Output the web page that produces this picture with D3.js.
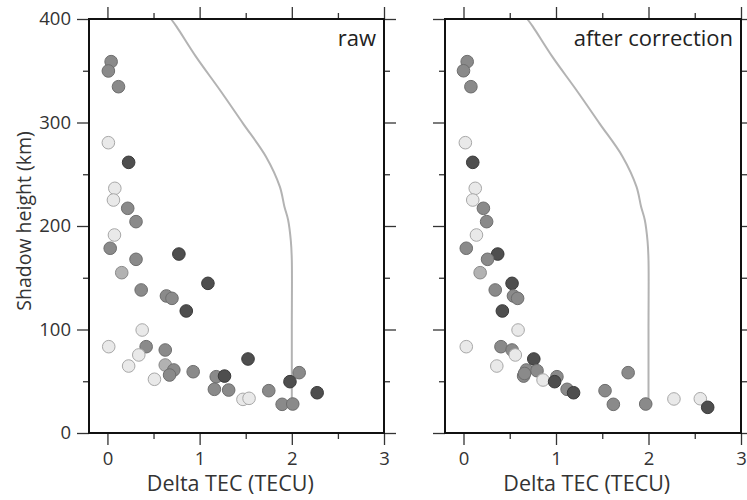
<!DOCTYPE html>
<html>
<head>
<meta charset="utf-8">
<script src="https://cdn.jsdelivr.net/npm/d3@7"></script>
<style>
  html, body { margin: 0; padding: 0; background: #fff; }
  svg { display: block; font-family: "Open Sans", "Noto Sans", sans-serif; }
</style>
</head>
<body>
<svg id="chart" width="747" height="500"></svg>
<script>
// ---- data ----
const xTicks = [0, 1, 2, 3];
const xMinorTicks = [0.5, 1.5, 2.5];
const yTicks = [0, 100, 200, 300, 400];
const yMinorTicks = [50, 150, 250, 350];

// model curve (same in both panels)
const modelTec    = [0.69, 0.75, 0.96, 1.22, 1.47, 1.72, 1.87, 1.92, 1.96, 1.99, 2.0, 2.0, 2.0];
const modelHeight = [400, 392.6, 363.6, 331.4, 299.2, 267, 238, 218.6, 205.8, 185, 167, 100, 28];

// shade codes: 0 light, 1 medium-light, 2 medium, 3 dark
const rawTec    = [0.04, 0.01, 0.12, 0.01, 0.23, 0.08, 0.065, 0.22, 0.31, 0.076, 0.03, 0.775, 0.31, 0.155, 1.09, 0.366, 0.64, 0.70, 0.855, 0.377, 0.014, 0.42, 0.627, 0.34, 0.23, 0.627, 0.72, 0.674, 0.51, 0.93, 1.18, 1.27, 1.525, 1.16, 1.315, 1.47, 1.536, 1.75, 1.895, 2.01, 1.98, 2.08, 2.275];
const rawHeight = [358.8, 349.8, 334.6, 280.5, 261.5, 236.4, 225.1, 217.1, 204.2, 191.3, 178.5, 172.9, 167.8, 154.9, 144.6, 138.2, 132.4, 130.1, 117.9, 99.5, 83.4, 83.4, 80.2, 75.4, 64.7, 65.7, 60.9, 56, 51.9, 59.2, 54.4, 55, 71.5, 42.2, 41.5, 32.5, 33.5, 40.9, 27.7, 28, 49.6, 58.3, 38.9];
const rawShade  = [2, 2, 2, 0, 3, 0, 0, 2, 2, 0, 2, 3, 2, 1, 3, 2, 2, 2, 3, 0, 0, 2, 2, 0, 0, 1, 2, 2, 0, 2, 2, 3, 3, 2, 2, 0, 0, 2, 2, 2, 3, 2, 3];

const corrTec    = [0.04, 0.0, 0.08, 0.02, 0.10, 0.127, 0.10, 0.215, 0.25, 0.14, 0.03, 0.37, 0.26, 0.18, 0.525, 0.343, 0.54, 0.585, 0.42, 0.59, 0.03, 0.405, 0.525, 0.56, 0.36, 0.76, 0.68, 0.795, 0.65, 0.66, 0.86, 1.01, 0.985, 1.12, 1.19, 1.53, 1.78, 1.62, 1.97, 2.275, 2.56, 2.64];
const corrHeight = [358.8, 350, 334.6, 280.5, 261.5, 236.4, 225.1, 217.1, 204.2, 191.3, 178.5, 172.9, 167.8, 154.9, 144.6, 138.2, 132.4, 130.1, 117.9, 99.5, 83.4, 83.4, 80.2, 75.4, 64.7, 71.5, 60.9, 60.2, 55, 57.5, 51.2, 54.4, 49.6, 42.2, 38.9, 40.9, 58.3, 27.7, 28, 32.9, 33.1, 24.8];
const corrShade  = [2, 2, 2, 0, 3, 0, 0, 2, 2, 0, 2, 3, 2, 1, 3, 2, 2, 2, 3, 0, 0, 2, 2, 0, 0, 3, 2, 2, 2, 2, 0, 2, 3, 2, 3, 2, 2, 2, 2, 0, 0, 3];

const panelLabels = ["raw", "after correction"];
const xTitle = "Delta TEC (TECU)";
const yTitle = "Shadow height (km)";

// ---- styles ----
const shadeFill   = ["#e9e9e9", "#b2b2b2", "#8a8a8a", "#4e4e4e"];
const shadeStroke = ["#a8a8a8", "#8a8a8a", "#6e6e6e", "#3a3a3a"];

const svg = d3.select("#chart");
const y = d3.scaleLinear().domain([0, 400]).range([433, 19]);

const panels = [
  { x0: 89,  x1: 384, tec: rawTec,  h: rawHeight,  shade: rawShade,  label: panelLabels[0], yLabels: true },
  { x0: 445, x1: 741, tec: corrTec, h: corrHeight, shade: corrShade, label: panelLabels[1], yLabels: false }
];

panels.forEach(p => {
  const x = d3.scaleLinear().domain([-0.2, 3]).range([p.x0, p.x1]);
  const g = svg.append("g");

  const tickStyle = sel => {
    sel.select(".domain").remove();
    sel.selectAll(".tick line").attr("stroke", "#333").attr("stroke-width", 1.3);
    sel.selectAll(".tick text").attr("fill", "#333").style("font-size", "18.5px")
      .style("font-family", "'Open Sans', sans-serif");
  };
  // bottom
  g.append("g").attr("transform", `translate(0,${y(0)})`)
    .call(d3.axisBottom(x).tickValues(xTicks).tickSize(12).tickPadding(7).tickFormat(d3.format("d")))
    .call(tickStyle);
  g.append("g").attr("transform", `translate(0,${y(0)})`)
    .call(d3.axisBottom(x).tickValues(xMinorTicks).tickSize(6).tickFormat(""))
    .call(tickStyle);
  // top
  g.append("g").attr("transform", `translate(0,${y(400)})`)
    .call(d3.axisTop(x).tickValues(xTicks).tickSize(12).tickFormat(""))
    .call(tickStyle);
  g.append("g").attr("transform", `translate(0,${y(400)})`)
    .call(d3.axisTop(x).tickValues(xMinorTicks).tickSize(6).tickFormat(""))
    .call(tickStyle);
  // left
  const la = d3.axisLeft(y).tickValues(yTicks).tickSize(12).tickPadding(6);
  if (!p.yLabels) la.tickFormat("");
  g.append("g").attr("transform", `translate(${p.x0},0)`).call(la).call(tickStyle);
  g.append("g").attr("transform", `translate(${p.x0},0)`)
    .call(d3.axisLeft(y).tickValues(yMinorTicks).tickSize(6).tickFormat(""))
    .call(tickStyle);
  // right
  g.append("g").attr("transform", `translate(${p.x1},0)`)
    .call(d3.axisRight(y).tickValues(yTicks).tickSize(12).tickFormat(""))
    .call(tickStyle);
  g.append("g").attr("transform", `translate(${p.x1},0)`)
    .call(d3.axisRight(y).tickValues(yMinorTicks).tickSize(6).tickFormat(""))
    .call(tickStyle);

  // model curve
  const line = d3.line().x((d, i) => x(modelTec[i])).y((d, i) => y(modelHeight[i]))
    .curve(d3.curveCatmullRom.alpha(0.5));
  g.append("path").datum(modelTec).attr("d", line)
    .attr("fill", "none").attr("stroke", "#b3b3b3").attr("stroke-width", 2);

  // points
  g.selectAll("circle.pt").data(p.tec).join("circle").attr("class", "pt")
    .attr("cx", d => x(d))
    .attr("cy", (d, i) => y(p.h[i]))
    .attr("r", 6.3)
    .attr("fill", (d, i) => shadeFill[p.shade[i]])
    .attr("stroke", (d, i) => shadeStroke[p.shade[i]])
    .attr("stroke-width", 1);

  // frame
  g.append("rect").attr("x", p.x0).attr("y", y(400))
    .attr("width", p.x1 - p.x0).attr("height", y(0) - y(400))
    .attr("fill", "none").attr("stroke", "#111").attr("stroke-width", 2);

  // panel label
  g.append("text").attr("x", p.x1 - 8).attr("y", 46)
    .attr("text-anchor", "end").attr("fill", "#222")
    .style("font-size", "22px").text(p.label);

  // x title
  g.append("text").attr("x", x(1.3) + 3).attr("y", 491)
    .attr("text-anchor", "middle").attr("fill", "#333")
    .style("font-size", "21.5px").text(xTitle);
});

// y title
svg.append("text")
  .attr("transform", `translate(31,${y(200) - 5}) rotate(-90)`)
  .attr("text-anchor", "middle").attr("fill", "#333")
  .style("font-size", "19.5px").text(yTitle);
</script>
</body>
</html>
